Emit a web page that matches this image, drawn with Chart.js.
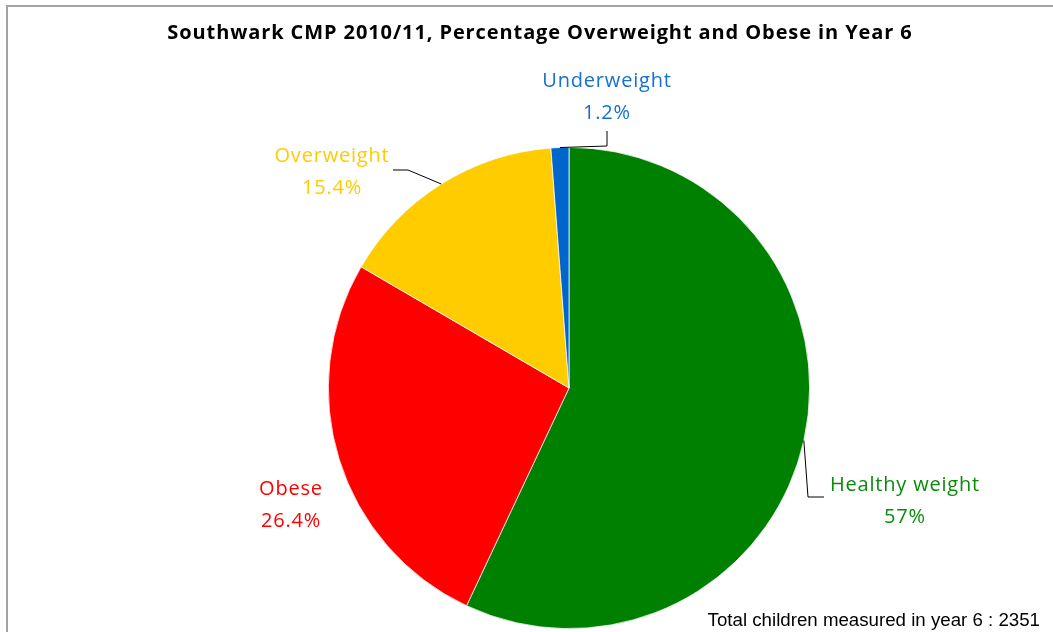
<!DOCTYPE html>
<html>
<head>
<meta charset="utf-8">
<script src="https://cdn.jsdelivr.net/npm/chart.js@4.4.1/dist/chart.umd.min.js"></script>
<style>
  html, body { margin: 0; padding: 0; background: #fff; }
  #chart { display: block; }
</style>
</head>
<body>
<canvas id="chart" width="1053" height="632"></canvas>
<script>
// Year 6 weight categories, clockwise from 12 o'clock
const categories = ['Healthy weight', 'Obese', 'Overweight', 'Underweight'];
const percentages = [57, 26.4, 15.4, 1.2];
const sliceColors = ['#008000', '#FF0000', '#FFCC00', '#0066CC'];
const labelColors = ['#0B8A0B', '#FF0000', '#FFCC00', '#1570D0'];
const titleText = 'Southwark CMP 2010/11, Percentage Overweight and Obese in Year 6';
const footnote = 'Total children measured in year 6 : 2351';

// label centres relative to the pie centre
const labelOffsets = [[336, 113], [-278, 117], [-237, -216], [38, -291]];
// leader line: elbow and end point relative to the label centre (null = no line)
const leaders = [
  [[-97, -4], [-81, -4]],
  null,
  [[76, -2], [61, -2]],
  [[0, 49], [0, 34]],
];

const labelFont = '20px "Open Sans", Lato, sans-serif';
const titleFont = 'bold 20px "Open Sans", Lato, sans-serif';
const footFont = '18.7px "Liberation Sans", Arial, sans-serif';

// frame, title, slice labels and footnote
const decorations = {
  id: 'decorations',
  beforeDraw(chart) {
    const ctx = chart.ctx;
    ctx.save();
    ctx.strokeStyle = '#a3a3a3';
    ctx.lineWidth = 2;
    ctx.strokeRect(7, 6, chart.width + 10, chart.height + 10);
    ctx.restore();
  },
  afterDatasetsDraw(chart) {
    const ctx = chart.ctx;
    const arcs = chart.getDatasetMeta(0).data;
    ctx.save();

    ctx.font = titleFont;
    ctx.letterSpacing = '0.9px';
    ctx.fillStyle = '#000';
    ctx.textAlign = 'center';
    ctx.textBaseline = 'middle';
    ctx.fillText(titleText, 540, 33);

    arcs.forEach((arc, i) => {
      const { x, y, startAngle, endAngle, outerRadius } =
        arc.getProps(['x', 'y', 'startAngle', 'endAngle', 'outerRadius'], true);
      const mid = (startAngle + endAngle) / 2;
      const lx = x + labelOffsets[i][0];
      const ly = y + labelOffsets[i][1];

      if (leaders[i]) {
        const [elbow, end] = leaders[i];
        ctx.beginPath();
        ctx.moveTo(x + Math.cos(mid) * outerRadius, y + Math.sin(mid) * outerRadius);
        ctx.lineTo(lx + elbow[0], ly + elbow[1]);
        ctx.lineTo(lx + end[0], ly + end[1]);
        ctx.strokeStyle = '#000';
        ctx.lineWidth = 1;
        ctx.stroke();
      }

      ctx.font = labelFont;
      ctx.letterSpacing = '0.8px';
      ctx.fillStyle = labelColors[i];
      ctx.fillText(categories[i], lx, ly - 16);
      ctx.fillText(percentages[i] + '%', lx, ly + 16);
    });

    ctx.font = footFont;
    ctx.letterSpacing = '0px';
    ctx.fillStyle = '#000';
    ctx.textAlign = 'right';
    ctx.fillText(footnote, 1040, 621);
    ctx.restore();
  }
};

new Chart(document.getElementById('chart'), {
  type: 'pie',
  data: {
    labels: categories,
    datasets: [{
      data: percentages,
      backgroundColor: sliceColors,
      borderColor: '#ffffff',
      borderWidth: 0.75,
    }],
  },
  options: {
    responsive: false,
    animation: false,
    layout: { padding: { top: 147, bottom: 3, left: 328, right: 243 } },
    plugins: {
      legend: { display: false },
      tooltip: { enabled: false },
      title: { display: false },
    },
  },
  plugins: [decorations],
});
</script>
</body>
</html>
